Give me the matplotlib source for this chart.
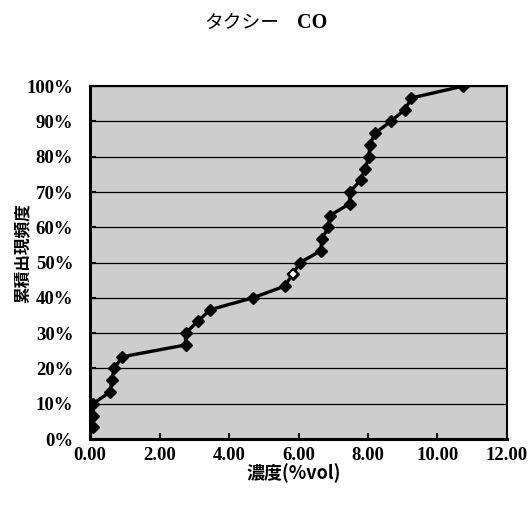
import matplotlib
matplotlib.use("Agg")
import matplotlib.pyplot as plt
from matplotlib.ticker import FuncFormatter, MultipleLocator

# Data (cumulative frequency, 30 samples)
concentration = [0.10, 0.10, 0.08, 0.58, 0.63, 0.69, 0.93, 2.75, 2.75, 3.10,
                 3.46, 4.68, 5.60, 5.83, 6.04, 6.64, 6.67, 6.86, 6.90, 7.47,
                 7.47, 7.79, 7.91, 8.03, 8.05, 8.20, 8.65, 9.06, 9.25, 10.73]
cum_freq = [(i + 1) / 30 for i in range(30)]
open_marker_index = [13]

title_jp = "タクシー"
title_en = "CO"
xlabel = "濃度(%vol)"
ylabel = "累積出現頻度"

serif = ["Liberation Serif", "Noto Sans CJK JP", "DejaVu Serif"]
cjk = ["Noto Sans CJK JP", "Liberation Serif", "DejaVu Sans"]

fig = plt.figure(figsize=(5.32, 5.07), dpi=100)
ax = fig.add_axes([0.1692, 0.134, 0.7838, 0.696])
ax.set_facecolor("#cdcdcd")

ax.plot(concentration, cum_freq, color="black", lw=2.4, marker="D", ms=6.5,
        mfc="black", mec="black", zorder=3)
ox = [concentration[i] for i in open_marker_index]
oy = [cum_freq[i] for i in open_marker_index]
ax.plot(ox, oy, ls="none", marker="D", ms=5.5, mfc="white", mec="black", mew=1.5, zorder=4)

ax.set_xlim(0, 12)
ax.set_ylim(0, 1.0)
ax.xaxis.set_major_locator(MultipleLocator(2))
ax.yaxis.set_major_locator(MultipleLocator(0.1))
ax.xaxis.set_major_formatter(FuncFormatter(lambda v, p: f"{v:.2f}"))
ax.yaxis.set_major_formatter(FuncFormatter(lambda v, p: f"{v*100:.0f}%"))
ax.grid(axis="y", color="black", lw=0.9)
ax.set_axisbelow(True)
ax.tick_params(direction="in", length=4, width=1.5, labelsize=13.5)
ax.tick_params(axis="x", pad=6)
ax.tick_params(axis="y", pad=12)
for lab in ax.get_xticklabels() + ax.get_yticklabels():
    lab.set_family(serif)
    lab.set_fontweight("bold")
for s in ax.spines.values():
    s.set_linewidth(1.5)
ax.spines["left"].set_linewidth(2.2)
ax.spines["bottom"].set_linewidth(2.2)

fig.text(0.525, 0.955, title_jp, ha="right", va="center", fontsize=13.5,
         family=cjk)
fig.text(0.558, 0.955, title_en, ha="left", va="center", fontsize=14.5,
         family=serif, fontweight="bold")
fig.text(0.551, 0.067, xlabel, ha="center", va="center", fontsize=13,
         family=cjk, fontweight="bold")
fig.text(0.042, 0.50, ylabel, ha="center", va="center", fontsize=12,
         family=cjk, rotation=90, fontweight="bold")

fig.savefig("out.png", dpi=100)
